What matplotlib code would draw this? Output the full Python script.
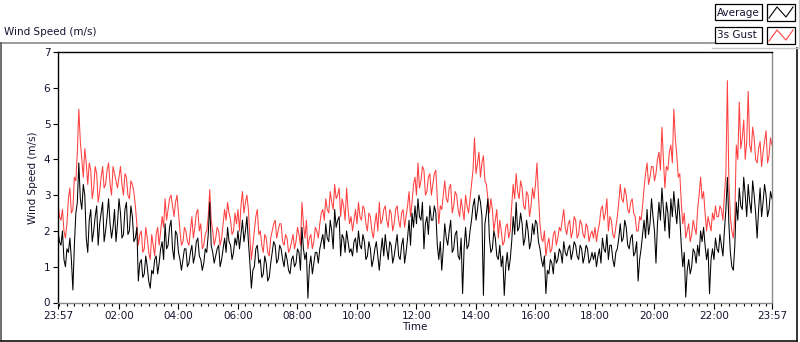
import matplotlib
matplotlib.use("Agg")
import matplotlib.pyplot as plt
import numpy as np
from matplotlib.patches import Rectangle
from matplotlib.lines import Line2D

# ---- data (one sample every 3 minutes from 23:57) ----
step_minutes = 3
gust = [
    2.8,2.4,2.3,2.6,2.0,1.8,2.2,2.9,3.2,2.5,2.6,3.5,3.4,4.2,5.4,4.5,4.0,3.5,4.3,3.9,3.3,3.9,3.7,2.9,3.2,3.8,3.6,2.8,3.1,3.5,3.8,3.2,3.3,3.7,3.9,3.3,3.0,3.8,3.6,3.4,
    3.2,3.5,3.8,3.3,3.0,3.6,3.5,3.0,2.9,3.4,3.3,3.1,2.7,2.2,1.6,1.9,2.0,1.4,1.5,2.1,1.8,1.4,1.2,1.9,1.6,1.3,1.9,2.1,1.6,2.0,2.4,2.1,2.9,2.3,2.6,2.9,3.0,2.7,2.4,2.8,
    3.0,2.5,2.0,1.6,1.7,2.1,2.0,1.7,1.6,2.0,2.4,1.8,2.1,2.5,2.6,2.0,2.2,1.5,1.6,1.9,2.0,2.4,3.15,2.3,2.0,1.6,1.8,2.1,2.0,1.6,1.8,2.2,2.6,2.3,2.8,2.5,2.3,1.9,2.0,2.5,
    2.2,2.6,2.0,2.7,3.1,2.5,2.8,3.0,2.6,1.8,1.2,1.6,2.0,2.4,2.6,1.9,2.0,1.6,1.4,1.9,1.8,1.4,1.3,1.8,2.0,2.2,2.3,1.8,2.0,2.2,2.2,1.7,1.6,1.9,1.8,1.4,1.5,1.7,1.9,1.5,
    1.7,2.1,1.9,1.6,2.8,2.2,1.8,2.3,1.5,1.8,1.9,1.5,1.7,2.1,2.0,1.8,2.2,2.5,2.6,2.3,2.9,2.6,2.5,3.1,2.8,2.6,3.3,2.9,3.0,3.2,2.4,2.9,2.7,2.3,3.2,2.6,2.2,2.4,2.0,2.3,
    2.6,2.2,2.8,2.4,2.3,2.7,2.6,2.2,2.0,2.5,2.4,2.0,1.8,2.2,2.5,2.0,2.8,2.2,2.3,2.6,2.7,2.3,2.1,2.6,2.5,2.0,2.2,2.6,2.7,2.3,2.1,2.5,2.6,2.1,2.4,2.7,3.1,2.4,2.8,3.3,
    3.5,3.0,3.9,3.2,3.4,3.8,3.7,3.0,3.1,3.5,3.6,3.0,3.3,3.6,3.7,2.9,2.2,2.7,2.6,3.0,3.4,2.9,2.8,3.2,3.3,2.5,2.7,3.1,3.0,2.6,2.4,2.9,2.6,2.3,3.0,2.7,2.5,2.9,3.3,3.7,
    4.6,3.6,3.9,4.2,3.5,3.9,4.1,3.4,3.3,2.9,2.5,2.9,2.6,2.0,2.3,2.6,1.8,2.3,2.0,1.6,1.7,2.1,2.2,1.8,2.0,2.7,3.3,2.9,3.6,3.1,2.9,3.4,3.2,2.7,2.6,3.1,3.0,2.4,2.7,3.2,
    2.9,3.3,3.9,3.0,2.2,1.8,1.7,2.0,1.3,1.6,1.8,1.4,1.5,1.9,2.0,1.6,1.8,2.1,2.0,2.3,2.6,2.1,1.9,2.2,2.3,1.8,2.0,2.4,2.3,1.8,1.9,2.3,2.2,1.9,1.8,2.2,2.1,1.7,1.9,2.0,
    1.8,2.1,1.7,2.0,2.2,2.6,2.7,2.3,2.5,2.9,2.0,2.4,2.3,1.9,1.8,2.1,2.4,2.8,3.3,2.9,2.8,3.2,3.0,2.6,2.5,2.8,2.9,2.5,2.4,2.0,2.0,2.4,2.3,2.7,3.2,3.6,3.9,3.3,3.5,3.8,
    3.8,3.4,3.6,4.0,4.2,3.7,4.9,4.0,3.2,3.8,3.7,4.2,4.4,3.9,5.4,4.6,4.1,3.5,3.6,2.8,2.2,2.5,1.8,2.0,2.2,1.7,1.9,2.3,2.1,1.9,2.6,3.0,3.5,2.9,3.1,2.5,2.0,2.4,2.2,2.0,
    2.5,2.3,2.7,2.4,2.4,2.7,2.6,2.3,3.0,3.6,6.2,3.4,2.4,2.0,1.8,2.4,4.4,4.0,5.6,4.3,4.6,5.1,4.0,4.5,5.9,4.4,4.2,4.9,4.6,4.0,3.9,4.3,4.5,3.8,4.2,4.5,4.8,3.9,4.1,4.6,4.4,
]
average = [
    2.0,1.7,1.6,2.0,1.2,1.0,1.5,1.4,1.8,1.2,0.35,1.6,2.5,2.8,3.9,2.9,2.6,3.3,3.0,1.8,1.4,2.3,2.6,1.7,2.0,2.4,2.7,1.6,2.2,2.5,2.8,1.7,2.0,2.4,2.9,2.2,1.8,2.1,2.6,1.7,
    2.2,2.9,2.5,1.8,1.9,2.6,2.8,1.9,2.0,2.7,2.4,1.7,1.8,2.1,0.6,1.1,1.2,0.7,0.8,1.3,1.0,0.6,0.4,0.9,0.8,1.2,1.3,0.8,1.1,1.5,1.7,1.2,2.2,1.5,1.6,2.1,2.3,1.5,1.2,2.0,
    1.9,1.4,1.2,0.9,1.2,1.5,1.5,1.0,1.1,1.4,1.6,1.1,1.3,1.7,1.8,1.3,1.2,0.9,1.1,1.5,1.4,1.9,2.8,1.6,1.4,1.1,1.3,1.5,1.6,1.0,1.2,1.5,1.8,1.4,2.1,1.7,1.6,1.2,1.4,1.8,
    1.6,2.0,1.5,1.9,2.3,1.7,2.0,2.4,1.7,1.1,0.4,0.9,1.0,1.5,1.6,1.1,1.2,0.7,0.8,1.3,1.1,0.6,0.7,1.1,1.4,1.7,1.6,1.1,1.2,1.6,1.5,1.2,1.0,1.4,1.2,0.9,0.8,1.2,1.3,1.0,
    1.1,1.5,1.4,0.9,2.1,1.5,1.2,1.4,0.12,1.0,1.3,0.8,1.1,1.4,1.4,1.1,1.5,1.7,1.9,1.5,2.2,1.8,1.7,2.3,2.0,1.5,2.6,2.1,2.3,2.4,1.3,1.9,1.8,1.4,2.0,1.7,1.4,1.5,1.3,1.7,
    1.8,1.4,2.0,1.6,1.5,1.9,1.7,1.2,1.3,1.7,1.5,1.0,1.2,1.5,1.7,1.3,0.9,1.4,1.8,1.3,1.9,1.5,1.2,1.7,1.6,1.1,1.3,1.6,1.9,1.3,1.2,1.6,1.8,1.1,1.4,1.8,2.3,1.6,2.5,2.1,
    2.7,2.2,2.9,2.4,2.3,2.8,1.5,2.2,2.4,1.9,2.7,2.3,2.3,2.7,2.5,1.6,1.2,1.7,0.9,1.5,2.2,1.8,1.6,2.0,2.3,1.4,1.5,1.9,2.0,1.3,1.2,1.8,0.25,1.5,2.1,1.5,1.6,2.0,2.3,2.7,
    2.9,2.3,2.6,3.0,2.8,2.4,0.2,2.2,2.5,2.9,1.8,1.4,1.5,2.0,1.8,1.3,1.2,1.6,1.0,1.3,0.2,1.0,1.4,0.9,1.2,1.7,2.4,1.9,2.8,2.0,2.1,2.5,2.2,1.6,1.8,2.3,2.0,1.5,1.7,2.2,
    1.9,2.3,2.2,1.7,1.5,1.2,1.0,1.3,0.25,0.9,0.8,1.2,1.1,0.8,1.4,1.1,1.2,1.5,1.4,1.1,1.7,1.4,1.3,1.5,1.6,1.2,1.4,1.7,1.6,1.3,1.2,1.6,1.5,1.1,1.3,1.6,1.5,1.1,1.2,1.4,
    1.2,1.4,1.0,1.3,1.5,1.1,1.8,1.5,1.4,1.9,1.2,1.6,1.6,1.2,1.0,1.4,1.5,1.8,2.2,1.7,1.8,2.3,2.1,1.6,1.5,1.8,1.9,1.3,1.4,1.7,0.6,1.2,1.5,1.9,2.3,1.8,2.6,1.9,2.2,2.9,
    2.4,2.0,1.1,2.2,2.8,2.3,3.2,2.6,2.0,2.8,2.5,1.8,2.9,2.4,3.1,2.6,2.2,2.9,2.4,1.6,1.0,1.4,0.15,0.9,1.2,0.8,1.0,1.5,1.4,1.1,1.6,1.3,2.0,1.7,2.1,1.6,1.2,1.5,0.25,1.2,
    1.5,1.2,1.8,1.5,1.4,1.9,1.6,1.3,2.0,2.6,3.5,2.2,1.4,1.0,0.9,1.6,2.8,2.3,3.2,2.7,2.6,3.5,3.0,2.4,3.3,2.8,2.5,3.4,3.0,2.5,1.8,2.6,3.2,2.4,2.8,3.3,3.0,2.4,2.6,3.1,2.9,
]
tick_labels = ["23:57", "02:00", "04:00", "06:00", "08:00", "10:00", "12:00",
               "14:00", "16:00", "18:00", "20:00", "22:00", "23:57"]
series_names = ["Average", "3s Gust"]

# ---- figure ----
W, H = 800, 342
fig = plt.figure(figsize=(W / 100, H / 100), dpi=100)
fig.patch.set_facecolor("white")
FS = 7.5
TXT = "#141430"

# overlay axes in pixel coordinates for frame / legend decorations
ov = fig.add_axes([0, 0, 1, 1], zorder=0)
ov.set_xlim(0, W)
ov.set_ylim(H, 0)
ov.axis("off")

# outer panel frame
ov.add_line(Line2D([1, 714], [43, 43], color="#8a8a8a", lw=1.2))
ov.add_line(Line2D([1, 1], [43, 341], color="#555555", lw=1.2))
ov.add_line(Line2D([1, 797], [341, 341], color="#111111", lw=1.2))
ov.add_line(Line2D([797, 797], [48, 341], color="#111111", lw=1.2))
# legend panel border
ov.add_line(Line2D([712, 799], [48, 48], color="#c8c8c8", lw=1.0))
ov.add_line(Line2D([799, 799], [0, 48], color="#c8c8c8", lw=1.0))

ov.text(4, 32, "Wind Speed (m/s)", fontsize=FS, color=TXT, ha="left", va="center")

leg_colors = ["black", "#ff4040"]
for i, (name, col) in enumerate(zip(series_names, leg_colors)):
    y0 = 4 + i * 23
    ov.add_patch(Rectangle((715, y0), 47, 16, fill=False, ec="black", lw=0.9))
    ov.text(717, y0 + 8.5, name, fontsize=FS, color=TXT, ha="left", va="center")
    ov.add_patch(Rectangle((767, y0), 28, 17, fill=False, ec="black", lw=0.9))
    ov.add_line(Line2D([769, 777, 786, 793], [y0 + 14, y0 + 3, y0 + 13, y0 + 3],
                       color=col, lw=0.8))

# main plot axes
ax_left, ax_right, ax_top, ax_bottom = 58, 772, 52, 302.5
ax = fig.add_axes([ax_left / W, (H - ax_bottom) / H,
                   (ax_right - ax_left) / W, (ax_bottom - ax_top) / H], zorder=1)
ax.set_facecolor("white")

ax.plot(np.arange(len(gust)) * step_minutes, gust, color="#ff4040", lw=0.75, zorder=2)
ax.plot(np.arange(len(average)) * step_minutes, average, color="black", lw=0.75, zorder=3)

total = 1440
ax.set_xlim(0, total)
ax.set_ylim(0, 7)

major = [0] + [123 + 120 * k for k in range(11)] + [total]
ax.set_xticks(major)
ax.set_xticklabels(tick_labels)
minor = [3 + 15 * k for k in range(96) if (3 + 15 * k) not in major and 0 < 3 + 15 * k < total]
ax.set_xticks(minor, minor=True)
ax.set_yticks(range(0, 8))

ax.tick_params(axis="x", which="major", length=4, width=0.8, pad=2, labelsize=FS,
               labelcolor=TXT, direction="out")
ax.tick_params(axis="x", which="minor", length=2.2, width=0.8, direction="out")
ax.tick_params(axis="y", which="major", length=3.5, width=0.8, pad=2, labelsize=FS,
               labelcolor=TXT, direction="out")

ax.spines["left"].set_color("black")
ax.spines["top"].set_color("black")
ax.spines["right"].set_color("#8a8a8a")
ax.spines["bottom"].set_color("#8a8a8a")
for s in ax.spines.values():
    s.set_linewidth(1.0)

ax.set_xlabel("Time", fontsize=FS, color=TXT, labelpad=1)
ax.set_ylabel("Wind Speed (m/s)", fontsize=FS, color=TXT, labelpad=4)

fig.savefig("out.png", dpi=100, facecolor="white")
